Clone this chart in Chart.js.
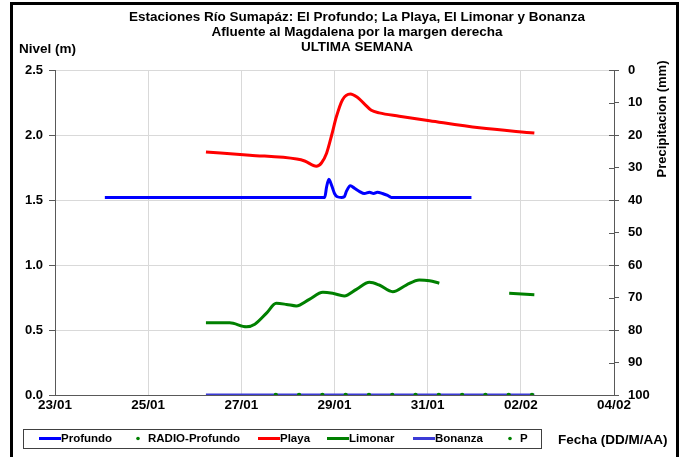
<!DOCTYPE html>
<html lang="es">
<head>
  <meta charset="UTF-8">
  <title>Estaciones Río Sumapáz</title>
  <style>
    body {
      margin: 0;
      padding: 0;
      background: #ffffff;
    }
    canvas#nivelChart {
      display: block;
    }
  </style>
</head>
<body>
  <canvas id="nivelChart" width="684" height="457"></canvas>

  <script src="https://cdn.jsdelivr.net/npm/chart.js"></script>

  <script>
    // dias contados desde el 23/01 a las 00:00
    const xTickLabels = ['23/01', '25/01', '27/01', '29/01', '31/01', '02/02', '04/02'];

    const titleLines = [
      'Estaciones Río Sumapáz: El Profundo; La Playa, El Limonar y Bonanza',
      'Afluente al Magdalena por la margen derecha',
      'ULTIMA SEMANA'
    ];

    const profundoDia   = [1.07, 5.79, 5.83, 5.88, 5.91, 5.96, 6.00, 6.06, 6.15, 6.21, 6.26, 6.34, 6.43, 6.54, 6.64, 6.75, 6.84, 6.92, 7.03, 7.14, 7.22, 8.94];
    const profundoNivel = [1.52, 1.52, 1.60, 1.66, 1.64, 1.59, 1.55, 1.525, 1.52, 1.525, 1.57, 1.61, 1.59, 1.565, 1.55, 1.56, 1.55, 1.56, 1.55, 1.535, 1.52, 1.52];

    const radioDia   = [4.74, 5.24, 5.74, 6.24, 6.74, 7.24, 7.74, 8.24, 8.74, 9.24, 9.74, 10.24];
    const radioNivel = [0, 0, 0, 0, 0, 0, 0, 0, 0, 0, 0, 0];

    const playaDia   = [3.24, 4.18, 5.19, 5.36, 5.61, 5.72, 5.83, 5.94, 6.04, 6.17, 6.34, 6.49, 6.64, 6.79, 6.96, 7.39, 8.04, 9.11, 10.29];
    const playaNivel = [1.87, 1.845, 1.815, 1.80, 1.76, 1.785, 1.86, 2.00, 2.14, 2.27, 2.315, 2.29, 2.24, 2.19, 2.17, 2.145, 2.11, 2.055, 2.015];

    const limonarDia   = [3.24, 3.75, 4.11, 4.29, 4.54, 4.75, 4.97, 5.18, 5.46, 5.75, 5.96, 6.21, 6.47, 6.75, 6.96, 7.25, 7.54, 7.82, 8.04, 8.25, 9.00, 9.75, 10.29];
    const limonarNivel = [0.555, 0.555, 0.525, 0.545, 0.63, 0.705, 0.697, 0.685, 0.736, 0.79, 0.782, 0.762, 0.813, 0.867, 0.846, 0.795, 0.846, 0.885, 0.879, 0.86, null, 0.782, 0.772];

    const bonanzaDia   = [3.24, 10.29];
    const bonanzaNivel = [0, 0];

    const precipDia = [];
    const precipMm  = [];

    const FONT = "'Liberation Sans', Arial, sans-serif";

    function puntos(dias, valores) {
      return dias.map((d, i) => ({ x: d, y: valores[i] }));
    }

    // marco, titulo, textos sueltos, leyenda y marcas internas del eje derecho
    const extrasPlugin = {
      id: 'extras',
      beforeDraw(chart) {
        const c = chart.ctx;
        c.save();
        c.fillStyle = '#ffffff';
        c.fillRect(0, 0, chart.width, chart.height);
        c.restore();
      },
      afterDraw(chart) {
        const c = chart.ctx;
        c.save();

        // marco exterior
        c.strokeStyle = '#000000';
        c.lineWidth = 3;
        c.strokeRect(11.5, 3.5, 666, 470);

        // marcas internas del eje de precipitacion
        const s = chart.scales.y2;
        c.strokeStyle = '#595959';
        c.lineWidth = 1;
        c.beginPath();
        s.ticks.forEach(t => {
          const y = Math.round(s.getPixelForValue(t.value)) + 0.5;
          c.moveTo(s.left - 5, y);
          c.lineTo(s.left, y);
        });
        c.stroke();

        c.fillStyle = '#000000';
        c.textBaseline = 'middle';

        // titulo
        c.font = 'bold 13.5px ' + FONT;
        c.textAlign = 'center';
        titleLines.forEach((t, i) => c.fillText(t, 357, 17 + i * 15));

        c.font = 'bold 13.5px ' + FONT;
        c.textAlign = 'left';
        c.fillText('Nivel (m)', 19, 49);
        c.fillText('Fecha (DD/M/AA)', 558, 440);

        c.save();
        c.font = 'bold 13px ' + FONT;
        c.translate(662, 119);
        c.rotate(-Math.PI / 2);
        c.textAlign = 'center';
        c.fillText('Precipitacion (mm)', 0, 0);
        c.restore();

        // leyenda
        c.strokeStyle = '#404040';
        c.lineWidth = 1;
        c.strokeRect(23.5, 429.5, 518, 19);

        const itemX = [39, 136, 258, 327, 413, 508];
        const ly = 438.5;
        c.font = 'bold 11.5px ' + FONT;
        chart.data.datasets.forEach((ds, i) => {
          const x0 = itemX[i];
          let tx;
          if (ds.showLine === false) {
            c.fillStyle = ds.pointBackgroundColor;
            c.beginPath();
            c.arc(x0 + 2, ly, 1.8, 0, Math.PI * 2);
            c.fill();
            tx = x0 + 12;
          } else {
            c.strokeStyle = ds.borderColor;
            c.lineWidth = 3;
            c.beginPath();
            c.moveTo(x0, ly);
            c.lineTo(x0 + 22, ly);
            c.stroke();
            tx = x0 + 22;
          }
          c.fillStyle = '#000000';
          c.fillText(ds.label, tx, ly);
        });

        c.restore();
      }
    };

    const lineBase = {
      borderWidth: 3,
      pointRadius: 0,
      fill: false,
      cubicInterpolationMode: 'monotone',
      spanGaps: false
    };

    const nivelChart = new Chart(document.getElementById('nivelChart'), {
      type: 'line',
      data: {
        datasets: [
          Object.assign({ label: 'Profundo', data: puntos(profundoDia, profundoNivel), borderColor: '#0000ff', yAxisID: 'y' }, lineBase),
          { label: 'RADIO-Profundo', data: puntos(radioDia, radioNivel), showLine: false, pointRadius: 2.2, borderWidth: 0,
            pointBackgroundColor: '#008000', pointBorderWidth: 0, borderColor: '#008000', yAxisID: 'y' },
          Object.assign({ label: 'Playa', data: puntos(playaDia, playaNivel), borderColor: '#ff0000', yAxisID: 'y' }, lineBase),
          Object.assign({ label: 'Limonar', data: puntos(limonarDia, limonarNivel), borderColor: '#008000', yAxisID: 'y' }, lineBase),
          Object.assign({ label: 'Bonanza', data: puntos(bonanzaDia, bonanzaNivel), borderColor: '#3b3bd6', yAxisID: 'y' }, lineBase),
          { label: 'P', data: puntos(precipDia, precipMm), showLine: false, pointRadius: 2.2, borderWidth: 0,
            pointBackgroundColor: '#008000', pointBorderWidth: 0, borderColor: '#008000', yAxisID: 'y2' }
        ]
      },
      options: {
        responsive: false,
        animation: false,
        devicePixelRatio: 1,
        layout: {
          padding: { left: 0, right: 0, top: 70, bottom: 0 }
        },
        scales: {
          x: {
            type: 'linear',
            min: 0,
            max: 12,
            afterFit: (scale) => { scale.height = 62; },
            ticks: {
              stepSize: 2,
              padding: 2,
              color: '#000000',
              font: { family: FONT, size: 13.5, weight: 'bold' },
              maxRotation: 0,
              callback: (v) => xTickLabels[v / 2]
            },
            grid: { color: '#d9d9d9', drawTicks: false },
            border: { color: '#595959' }
          },
          y: {
            position: 'left',
            min: 0,
            max: 2.5,
            afterFit: (scale) => { scale.width = 55; },
            ticks: {
              stepSize: 0.5,
              padding: 6,
              color: '#000000',
              font: { family: FONT, size: 13, weight: 'bold' },
              callback: (v) => v.toFixed(1)
            },
            grid: { color: '#d9d9d9', tickColor: '#595959', tickLength: 6 },
            border: { color: '#595959' }
          },
          y2: {
            position: 'right',
            reverse: true,
            min: 0,
            max: 100,
            afterFit: (scale) => { scale.width = 70; },
            ticks: {
              stepSize: 10,
              padding: 9,
              color: '#000000',
              font: { family: FONT, size: 13, weight: 'bold' }
            },
            grid: { drawOnChartArea: false, tickColor: '#595959', tickLength: 5 },
            border: { color: '#595959' }
          }
        },
        plugins: {
          legend: { display: false },
          tooltip: { enabled: false },
          title: { display: false }
        }
      },
      plugins: [extrasPlugin]
    });
  </script>
</body>
</html>
